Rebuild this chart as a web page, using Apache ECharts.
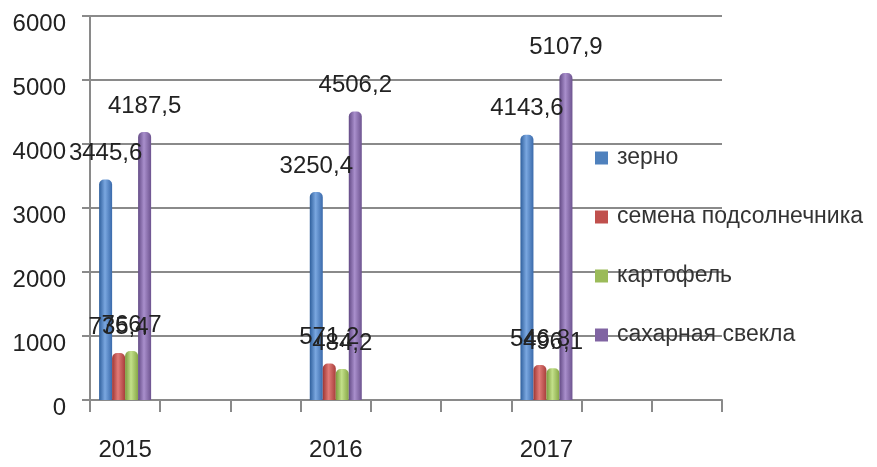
<!DOCTYPE html>
<html>
<head>
<meta charset="utf-8">
<script src="https://cdn.jsdelivr.net/npm/echarts@6/dist/echarts.min.js"></script>
<style>html,body{margin:0;padding:0;background:#fff;}#c{width:877px;height:467px;}</style>
</head>
<body>
<div id="c"></div>
<script>
var categories = ['2015', '', '', '2016', '', '', '2017', '', ''];
var seriesNames = ['зерно', 'семена подсолнечника', 'картофель', 'сахарная свекла'];
var zerno = [3445.6, null, null, 3250.4, null, null, 4143.6, null, null];
var semena = [735.4, null, null, 571.2, null, null, 546.8, null, null];
var kartofel = [766.7, null, null, 484.2, null, null, 496.1, null, null];
var svekla = [4187.5, null, null, 4506.2, null, null, 5107.9, null, null];
var yTicks = [0, 1000, 2000, 3000, 4000, 5000, 6000];

var baseColors = ['#4F81BD', '#C0504D', '#9BBB59', '#8064A2'];
var grads = [
  ['#2f5f9c', '#7aa7e0', '#3a6aab'],
  ['#9e3633', '#e07a77', '#a83e3b'],
  ['#7b9a3c', '#c3e08a', '#86a645'],
  ['#634a85', '#a98fcc', '#6d538f']
];
function grad(g) {
  return new echarts.graphic.LinearGradient(0, 0, 1, 0, [
    {offset: 0, color: g[0]}, {offset: 0.45, color: g[1]}, {offset: 1, color: g[2]}
  ]);
}
var dataArr = [zerno, semena, kartofel, svekla];
var FONT = '"Liberation Sans", Arial, sans-serif';
var series = seriesNames.map(function (n, i) {
  return {
    name: n,
    type: 'bar',
    data: dataArr[i],
    barWidth: 13,
    barGap: '0%',
    itemStyle: {color: grad(grads[i]), borderRadius: [5, 5, 0, 0]},
    label: {
      show: true,
      position: 'top',
      distance: 14,
      color: '#222',
      fontFamily: FONT,
      fontSize: 24,
      formatter: function (p) { return p.value == null ? '' : String(p.value).replace('.', ','); }
    }
  };
});

var chart = echarts.init(document.getElementById('c'));
chart.setOption({
  animation: false,
  backgroundColor: '#fff',
  grid: {left: 90, right: 155, top: 16, bottom: 67, containLabel: false},
  legend: {
    orient: 'vertical',
    left: 590,
    top: 141,
    itemWidth: 13,
    itemHeight: 13,
    itemGap: 35,
    icon: 'rect',
    data: seriesNames.map(function (n, i) { return {name: n, itemStyle: {color: baseColors[i]}}; }),
    textStyle: {fontFamily: FONT, fontSize: 23, color: '#333', lineHeight: 24, padding: [0, 0, 0, 4]}
  },
  xAxis: {
    type: 'category',
    data: categories,
    axisLine: {lineStyle: {color: '#8a8a8a', width: 2}},
    axisTick: {show: true, length: 12, interval: 0, lineStyle: {color: '#8a8a8a', width: 2}},
    axisLabel: {interval: 0, margin: 38, color: '#222', fontFamily: FONT, fontSize: 24}
  },
  yAxis: {
    type: 'value',
    min: yTicks[0],
    max: yTicks[yTicks.length - 1],
    interval: 1000,
    axisLine: {show: true, lineStyle: {color: '#8a8a8a', width: 2}},
    axisTick: {show: true, length: 8, lineStyle: {color: '#8a8a8a', width: 2}},
    splitLine: {lineStyle: {color: '#8a8a8a', width: 2}},
    axisLabel: {
      margin: 24, color: '#222', fontFamily: FONT, fontSize: 24,
      verticalAlign: 'top', lineHeight: 16,
      formatter: function (v) { return String(v); }
    }
  },
  series: series
});
</script>
</body>
</html>
